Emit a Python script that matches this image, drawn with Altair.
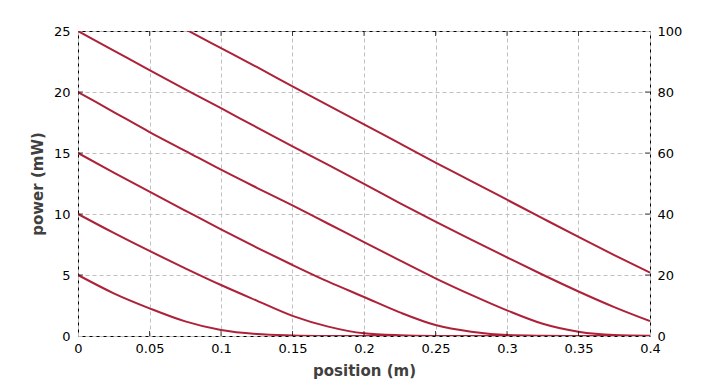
import altair as alt
import pandas as pd

# positions (m) at which the curves were read
xs = [0, 0.025, 0.05, 0.075, 0.1, 0.125, 0.15, 0.175, 0.2, 0.225, 0.25,
      0.275, 0.3, 0.325, 0.35, 0.375, 0.4]

p5 = [5, 3.5, 2.27, 1.2, 0.49, 0.16, 0.05, 0.01, 0, 0, 0, 0, 0, 0, 0, 0, 0]
p10 = [10, 8.45, 6.97, 5.55, 4.18, 2.9, 1.65, 0.77, 0.22, 0.06, 0.01, 0, 0, 0, 0, 0, 0]
p15 = [15, 13.4, 11.83, 10.28, 8.74, 7.25, 5.82, 4.45, 3.2, 1.94, 0.9, 0.35, 0.08, 0.02, 0, 0, 0]
p20 = [20, 18.36, 16.72, 15.18, 13.63, 12.15, 10.7, 9.2, 7.7, 6.2, 4.73, 3.37, 2.1, 1.0, 0.35, 0.08, 0.02]
p25 = [25, 23.4, 21.8, 20.22, 18.67, 17.1, 15.55, 14.02, 12.47, 10.9, 9.37, 7.9, 6.45, 5.02, 3.65, 2.37, 1.22]
p30 = [29.9, 28.3, 26.75, 25.15, 23.6, 22.05, 20.47, 18.9, 17.35, 15.78, 14.22, 12.7, 11.17, 9.64, 8.12, 6.63, 5.19]

series = {"5": p5, "10": p10, "15": p15, "20": p20, "25": p25, "30": p30}

x_ticks = [0, 0.05, 0.1, 0.15, 0.2, 0.25, 0.3, 0.35, 0.4]
y_ticks = [0, 5, 10, 15, 20, 25]
right_ticks = [0, 20, 40, 60, 80, 100]

rows = []
for name, vals in series.items():
    for x, v in zip(xs, vals):
        rows.append({"series": name, "x": x, "p": v})
df = pd.DataFrame(rows)

FONT = "DejaVu Sans"
LINE_COLOR = "#ad2239"

xenc = alt.X("x:Q", scale=alt.Scale(domain=[0, 0.4], nice=False),
             axis=alt.Axis(values=x_ticks, title="position (m)", grid=True,
                           format="~g", ticks=False, domain=False, labelFlush=False,
                           labelPadding=6, titlePadding=8))
yenc = alt.Y("p:Q", scale=alt.Scale(domain=[0, 25], nice=False),
             axis=alt.Axis(values=y_ticks, title="power (mW)", grid=True,
                           ticks=False, domain=False, labelFlush=False,
                           labelPadding=8, titlePadding=8))

lines = alt.Chart(df).mark_line(color=LINE_COLOR, strokeWidth=2, clip=True,
                                interpolate="monotone").encode(
    x=xenc, y=yenc, detail="series:N")

# inner tick marks on the frame
inner_x = [0.05, 0.1, 0.15, 0.2, 0.25, 0.3, 0.35]
inner_y = [5, 10, 15, 20]
bt = pd.DataFrame({"x": inner_x, "p": [0] * len(inner_x)})
tt = pd.DataFrame({"x": inner_x, "p": [25] * len(inner_x)})
lt = pd.DataFrame({"x": [0] * len(inner_y), "p": inner_y})
rt = pd.DataFrame({"x": [0.4] * len(inner_y), "p": inner_y})

tick_bottom = alt.Chart(bt).mark_tick(orient="vertical", size=5, thickness=1,
                                      color="black", yOffset=-2.5).encode(x=xenc, y=yenc)
tick_top = alt.Chart(tt).mark_tick(orient="vertical", size=5, thickness=1,
                                   color="black", yOffset=2.5).encode(x=xenc, y=yenc)
tick_left = alt.Chart(lt).mark_tick(orient="horizontal", size=5, thickness=1,
                                    color="black", xOffset=2.5).encode(x=xenc, y=yenc)
tick_right = alt.Chart(rt).mark_tick(orient="horizontal", size=5, thickness=1,
                                     color="black", xOffset=-2.5).encode(x=xenc, y=yenc)

main = alt.layer(lines, tick_bottom, tick_top, tick_left, tick_right)

rdf = pd.DataFrame({"x": [0.4] * len(right_ticks), "r": right_ticks})
right = alt.Chart(rdf).mark_point(opacity=0).encode(
    x=xenc,
    y=alt.Y("r:Q", scale=alt.Scale(domain=[0, 100], nice=False),
            axis=alt.Axis(values=right_ticks, orient="right", title=None,
                          grid=False, ticks=False, domain=False, labelFlush=False,
                          labelPadding=7)))

chart = alt.layer(main, right).resolve_scale(y="independent").properties(
    width=572, height=305,
    background="white",
    autosize=alt.AutoSizeParams(type="none"),
    padding={"left": 70, "top": 23, "right": 45, "bottom": 45},
).configure_view(stroke="black", strokeWidth=1).configure_axis(
    labelFont=FONT, labelFontSize=13, labelColor="black",
    titleFont=FONT, titleFontSize=15, titleFontWeight="bold", titleColor="#404040",
    gridColor="#c0c0c0", gridDash=[4, 3], gridWidth=1,
)

chart.save("out.html", embed_options={"renderer": "svg", "actions": False})
